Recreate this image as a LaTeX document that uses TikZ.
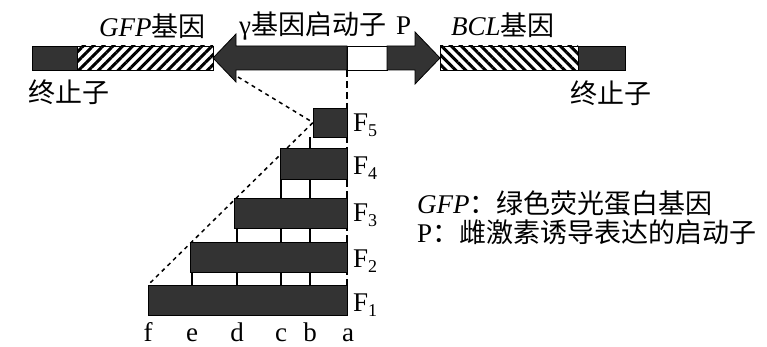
\documentclass[tikz,border=0pt]{standalone}
\usepackage{fontspec}
\setmainfont{Liberation Serif}
\newfontfamily\cjk{Noto Sans CJK SC}
\usetikzlibrary{patterns.meta,backgrounds}
\definecolor{darkbar}{gray}{0.2}
\newcommand\fsub[1]{\raisebox{-5pt}{\fontsize{18}{18}\selectfont #1}}
\begin{document}
\begin{tikzpicture}[x=1pt,y=-1pt,
  box/.style={draw=black,line width=0.8pt,inner sep=0pt,outer sep=0pt,anchor=north west},
  darkbox/.style={box,fill=darkbar},
  hatchR/.style={box,pattern={Lines[angle=45,distance=7pt,line width=3pt]}},
  hatchL/.style={box,pattern={Lines[angle=-45,distance=7pt,line width=3pt]}},
  bar/.style={fill=darkbar,draw=black,line width=0.8pt,inner sep=0pt,outer sep=0pt,anchor=north east},
  lbl/.style={inner sep=0pt,font=\fontsize{27}{30}\selectfont},
  letter/.style={lbl,anchor=base,text depth=0pt},
  adash/.style={line width=1.5pt,dash pattern=on 7pt off 4pt},
  ddash/.style={line width=1.5pt,dash pattern=on 4pt off 4pt},
  tickln/.style={line width=1.3pt},
  arrowshape/.style={fill=darkbar,draw=black,line width=0.8pt}]
\useasboundingbox (0,0) rectangle (767,347);

% top construct
\node[darkbox,minimum width=45pt,minimum height=24pt] (termL) at (32,46) {};
\node[hatchR,minimum width=136pt,minimum height=24pt] (gfp) at (77,46) {};
\node[box,fill=white,minimum width=40pt,minimum height=24pt] (wbox) at (347,46) {};
\node[hatchL,minimum width=138pt,minimum height=24pt] (bcl) at (440,46) {};
\node[darkbox,minimum width=47pt,minimum height=24pt] (termR) at (578,46) {};
\draw[arrowshape] (gfp.east) -- (236,34) -- (236,46) -- (wbox.north west) -- (wbox.south west) -- (236,70) -- (236,82) -- cycle;
\draw[arrowshape] (wbox.north east) -- (415,46) -- (415,32) -- (bcl.west) -- (415,84) -- (415,70) -- (wbox.south east) -- cycle;

% labels top
\node[lbl,anchor=west] (lgfp) at (99,26) {\textit{GFP}\cjk 基因};
\node[lbl,anchor=west] (lgam) at (239,26) {γ\cjk 基因启动子\rmfamily\hspace{10pt}P};
\node[lbl,anchor=west] (lbcl) at (451,25) {\textit{BCL}\cjk 基因};
\node[lbl,anchor=west] (tL) at (28,92) {\cjk 终止子};
\node[lbl,anchor=west] (tR) at (570,93) {\cjk 终止子};

% fragment bars
\node[bar,minimum width=34pt,minimum height=29pt] (F5) at (347,108) {};
\node[bar,minimum width=67pt,minimum height=31pt] (F4) at (347,148) {};
\node[bar,minimum width=113pt,minimum height=30pt] (F3) at (347,198) {};
\node[bar,minimum width=157pt,minimum height=30pt] (F2) at (347,242) {};
\node[bar,minimum width=199pt,minimum height=30pt] (F1) at (347,285) {};

% fragment labels
\node[lbl,anchor=base west] (L5) at ([xshift=6pt,yshift=-9pt]F5.east) {F\fsub{5}};
\node[lbl,anchor=base west] (L4) at ([xshift=6pt,yshift=-11pt]F4.east) {F\fsub{4}};
\node[lbl,anchor=base west] (L3) at ([xshift=6pt,yshift=-9pt]F3.east) {F\fsub{3}};
\node[lbl,anchor=base west] (L2) at ([xshift=6pt,yshift=-10pt]F2.east) {F\fsub{2}};
\node[lbl,anchor=base west] (L1) at ([xshift=6pt,yshift=-11pt]F1.east) {F\fsub{1}};

% position letters
\node[letter] (pf) at (148,341) {f};
\node[letter] (pe) at (192,341) {e};
\node[letter] (pd) at (237,341) {d};
\node[letter] (pc) at (281,341) {c};
\node[letter] (pb) at (310,341) {b};
\node[letter] (pa) at (348,341) {a};

% legend
\node[lbl,anchor=west] (leg1) at (417,203) {\textit{GFP}\cjk ：绿色荧光蛋白基因};
\node[lbl,anchor=west] (leg2) at (417,232) {P\cjk ：雌激素诱导表达的启动子};

\coordinate (p) at (238,77);
\begin{scope}[on background layer]
  \draw[adash] (wbox.south west) -- (F1.north east);
  \draw[tickln] (pb |- F5.south) -- (pb |- F1.north);
  \draw[tickln] (pc |- F4.south) -- (pc |- F1.north);
  \draw[tickln] (pd |- F3.south) -- (pd |- F1.north);
  \draw[tickln] (pe |- F2.south) -- (pe |- F1.north);
  \draw[ddash] (p) -- (F5.west) -- (F1.north west);
\end{scope}
\end{tikzpicture}
\end{document}
